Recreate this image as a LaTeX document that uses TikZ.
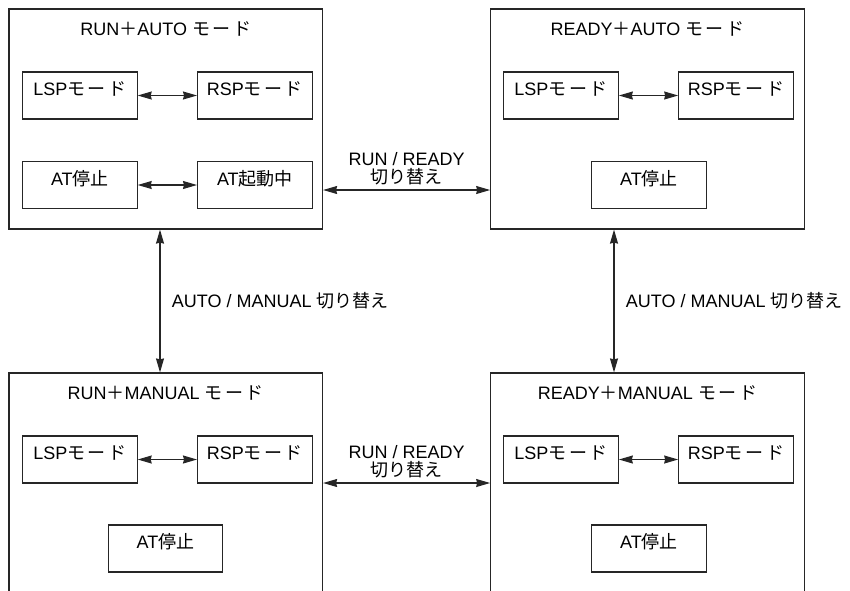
\documentclass[tikz,border=0pt]{standalone}
\usepackage{fontspec}
\setmainfont{Liberation Sans}
\newfontfamily\jpfont{Noto Sans CJK JP}
\newfontfamily\kanafont[LetterSpace=14]{Noto Sans CJK JP}
\newcommand{\jp}[1]{{\jpfont #1}}
\newcommand{\mode}{{\kanafont モード}}
\usetikzlibrary{arrows.meta}

\begin{document}
\begin{tikzpicture}[x=1pt, y=-1pt,
	font=\fontsize{18}{18}\selectfont,
	bigbox/.style={draw=black!85, line width=1.2pt, minimum width=313.5pt, minimum height=220pt, inner sep=0pt},
	modebox/.style={draw=black!85, line width=1.2pt, minimum width=114.5pt, inner sep=0pt, text height=23.5pt, text depth=23.5pt},
	link/.style={{Stealth[length=14pt,width=8pt,inset=1pt]}-{Stealth[length=14pt,width=8pt,inset=1pt]}, line width=1.2pt, draw=black!85}]
	\useasboundingbox (0,0) rectangle (850,590);
	\clip (0,0) rectangle (850,590);
	\node[bigbox] (runauto) at (165.75,119) {};
	\node[bigbox] (readyauto) at (647.5,119) {};
	\node[bigbox] (runman) at (165.75,483) {};
	\node[bigbox] (readyman) at (647.5,483) {};
	\node (runautot) at (165.75,29) {RUN\jp{＋}AUTO \mode};
	\node (readyautot) at (647.5,29) {READY\jp{＋}AUTO \mode};
	\node (runmant) at (165.75,393) {RUN\jp{＋}MANUAL \mode};
	\node (readymant) at (647.5,393) {READY\jp{＋}MANUAL \mode};
	\node[modebox] (lsp1) at (79.85,95.5) {LSP\mode};
	\node[modebox] (rsp1) at (254.85,95.5) {RSP\mode};
	\node[modebox] (atoff1) at (79.85,185) {AT\jp{停止}};
	\node[modebox] (aton1) at (254.85,185) {AT\jp{起動中}};
	\node[modebox] (lsp2) at (561,95.5) {LSP\mode};
	\node[modebox] (rsp2) at (736,95.5) {RSP\mode};
	\node[modebox] (atoff2) at (649,185) {AT\jp{停止}};
	\node[modebox] (lsp3) at (79.85,459.5) {LSP\mode};
	\node[modebox] (rsp3) at (254.85,459.5) {RSP\mode};
	\node[modebox] (atoff3) at (165.5,548.5) {AT\jp{停止}};
	\node[modebox] (lsp4) at (561,459.5) {LSP\mode};
	\node[modebox] (rsp4) at (736,459.5) {RSP\mode};
	\node[modebox] (atoff4) at (649,548.5) {AT\jp{停止}};
	\draw[link] (lsp1) -- (rsp1);
	\draw[link] (atoff1) -- (aton1);
	\draw[link] (lsp2) -- (rsp2);
	\draw[link] (lsp3) -- (rsp3);
	\draw[link] (lsp4) -- (rsp4);
	\draw[link] ([yshift=-71pt]runauto.east) -- node[above=1pt, align=center] {RUN / READY\\\jp{切り替え}} ([yshift=-71pt]readyauto.west);
	\draw[link] (runman.east) -- node[above=1pt, align=center] {RUN / READY\\\jp{切り替え}} (readyman.west);
	\draw[link] ([xshift=-5.75pt]runauto.south) -- node[right=8pt] {AUTO / MANUAL \jp{切り替え}} ([xshift=-5.75pt]runman.north);
	\draw[link] ([xshift=-33.5pt]readyauto.south) -- node[right=8pt] {AUTO / MANUAL \jp{切り替え}} ([xshift=-33.5pt]readyman.north);
\end{tikzpicture}
\end{document}
